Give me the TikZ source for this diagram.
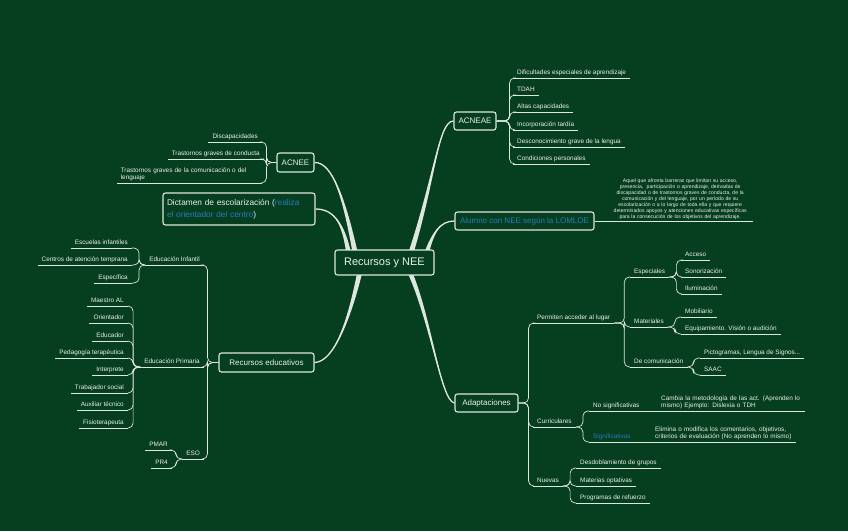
\documentclass[tikz,border=0pt]{standalone}
\usepackage{fontspec}
\setmainfont{Liberation Sans}
\usetikzlibrary{calc,backgrounds}
\definecolor{bg}{RGB}{6,62,32}
\definecolor{ln}{RGB}{222,230,222}
\definecolor{tx}{RGB}{235,240,235}
\definecolor{bl}{RGB}{38,125,190}
\newcommand\mmbranch[4]{%
  \fill[ln] ($(#1)+(-2.8,0)$) .. controls ($(#2)+(-1.4,0)$) and (#3) .. (#4)
     .. controls (#3) and ($(#2)+(1.4,0)$) .. ($(#1)+(2.8,0)$) -- cycle;
  \draw[ln, line width=1.3pt] (#1) .. controls (#2) and (#3) .. (#4);}
\begin{document}
\begin{tikzpicture}[x=1pt,y=-1pt,
  box/.style={draw=ln, line width=1.1pt, rounded corners=2.5pt, fill=bg, text=tx,
    inner sep=0pt, align=center, font=\fontsize{8}{10}\selectfont},
  ul/.style={draw=ln, line width=0.7pt},
  conn/.style={draw=ln, line width=0.7pt, rounded corners=5pt},
  leaf/.style={text=tx, font=\fontsize{6.4}{7.3}\selectfont, inner xsep=4pt, inner ysep=1.8pt,
    text height=4.8pt, text depth=1.4pt,
    append after command={(\tikzlastnode.south west) edge[ul] (\tikzlastnode.south east)}},
  leafm/.style={text=tx, font=\fontsize{6.4}{7.3}\selectfont, inner xsep=4pt, inner ysep=1.8pt, align=left,
    append after command={(\tikzlastnode.south west) edge[ul] (\tikzlastnode.south east)}},
  lfw/.style={leaf, anchor=south west},
  lfe/.style={leaf, anchor=south east}]
\begin{pgfonlayer}{background}
\fill[bg] (0,0) rectangle (848,531);
\end{pgfonlayer}
\useasboundingbox (0,0) rectangle (848,531);

% main topics
\node[box, minimum width=99, minimum height=25, font=\fontsize{11}{13}\selectfont] (c) at (384.5,262.5) {Recursos y NEE};
\node[box, minimum width=42, minimum height=18] (acneae) at (475,121) {ACNEAE};
\node[box, minimum width=139, minimum height=18, text=bl] (alumno) at (524.5,221) {Alumno con NEE según la LOMLOE};
\node[box, minimum width=63, minimum height=18] (adapt) at (486.5,403) {Adaptaciones};
\node[box, minimum width=37, minimum height=19] (acnee) at (295.5,162.5) {ACNEE};
\node[box, minimum width=152, minimum height=32, text width=144, align=left, font=\fontsize{8.3}{12}\selectfont] (dict) at (239,209)
  {Dictamen de escolarización (\textcolor{bl}{realiza}\\\textcolor{bl}{el orientador del centro})};
\node[box, minimum width=95, minimum height=19] (receduc) at (266.5,362.5) {Recursos educativos};

% main branches
\begin{pgfonlayer}{background}
\mmbranch{408,262}{435,180}{438,121}{acneae.west}
\mmbranch{424,262}{432,232}{440,221}{alumno.west}
\mmbranch{405,262}{430,310}{440,401}{adapt.west}
\mmbranch{357,262}{345,200}{333,162}{acnee.east}
\mmbranch{350,262}{345,225}{335,209}{dict.east}
\mmbranch{362,262}{350,320}{334,362}{receduc.east}
\end{pgfonlayer}

% ACNEAE
\node[lfw] (a1) at (513,78) {Dificultades especiales de aprendizaje};
\node[lfw] (a2) at (513,95) {TDAH};
\node[lfw] (a3) at (513,112) {Altas capacidades};
\node[lfw] (a4) at (513,130) {Incorporación tardía};
\node[lfw] (a5) at (513,147) {Desconocimiento grave de la lengua};
\node[lfw] (a6) at (513,164) {Condiciones personales};
\foreach \n in {a1,a2,a3,a4,a5,a6} \draw[conn] (acneae.east) -- ++(13,0) |- (\n.south west);

% ACNEE
\node[lfe] (b1) at (262,142) {Discapacidades};
\node[lfe] (b2) at (264,159) {Trastornos graves de conducta};
\node[leafm, anchor=south east, text width=137] (b3) at (262,183) {Trastornos graves de la comunicación o del\\lenguaje};
\foreach \n in {b1,b2,b3} \draw[conn] (acnee.west) -- ++(-10,0) |- (\n.south east);

% Alumno definition
\node[anchor=south west, text=tx, font=\fontsize{5.1}{6}\selectfont, text width=146, inner xsep=0pt, inner ysep=1.2pt, align=center,
  append after command={(\tikzlastnode.south west) edge[ul] (\tikzlastnode.south east)}] (def) at (607,221)
  {Aquel que afronta barreras que limitan su acceso,\\presencia,\ \ participación o aprendizaje, derivadas de\\discapacidad o de trastornos graves de conducta, de la\\comunicación y del lenguaje, por un período de su\\escolarización o a lo largo de toda ella y que requiere\\determinados apoyos y atenciones educativas específicas\\para la consecución de los objetivos del aprendizaje.};
\draw[conn] (alumno.east) -- (def.south west);

% Recursos educativos
\node[lfe] (ei) at (204,265) {Educación Infantil};
\node[lfe] (ep) at (204,367) {Educación Primaria};
\node[lfe] (eso) at (204,459) {ESO};
\foreach \n in {ei,ep,eso} \draw[conn] (receduc.west) -- ++(-11,0) |- (\n.south east);

\node[lfe] (ei1) at (132,248) {Escuelas infantiles};
\node[lfe] (ei2) at (132,265) {Centros de atención temprana};
\node[lfe] (ei3) at (132,283) {Específica};
\foreach \n in {ei1,ei2,ei3} \draw[conn] (ei.south west) -- ++(-6,0) |- (\n.south east);

\node[lfe] (p1) at (128,306) {Maestro AL};
\node[lfe] (p2) at (128,323) {Orientador};
\node[lfe] (p3) at (128,341) {Educador};
\node[lfe] (p4) at (128,358) {Pedagogía terapéutica};
\node[lfe] (p5) at (128,375) {Interprete};
\node[lfe] (p6) at (128,393) {Trabajador social};
\node[lfe] (p7) at (128,410) {Auxiliar técnico};
\node[lfe] (p8) at (128,428) {Fisioterapeuta};
\foreach \n in {p1,p2,p3,p4,p5,p6,p7,p8} \draw[conn] (ep.south west) -- ++(-7,0) |- (\n.south east);

\node[lfe] (s1) at (172,450) {PMAR};
\node[lfe] (s2) at (172,468) {PR4};
\foreach \n in {s1,s2} \draw[conn] (eso.south west) -- ++(-6,0) |- (\n.south east);

% Adaptaciones
\node[lfw] (perm) at (533,323) {Permiten acceder al lugar};
\node[lfw] (curr) at (533,427) {Curriculares};
\node[lfw] (nuev) at (533,486) {Nuevas};
\foreach \n in {perm,curr,nuev} \draw[conn] (adapt.east) -- ++(10,0) |- (\n.south west);

\node[lfw] (esp) at (630,277) {Especiales};
\node[lfw] (mat) at (630,327) {Materiales};
\node[lfw] (dec) at (630,367) {De comunicación};
\foreach \n in {esp,mat,dec} \draw[conn] (perm.south east) -- ++(10,0) |- (\n.south west);

\node[lfw] (e1) at (681,260) {Acceso};
\node[lfw] (e2) at (681,277) {Sonorización};
\node[lfw] (e3) at (681,294) {Iluminación};
\foreach \n in {e1,e2,e3} \draw[conn] (esp.south east) -- ++(7,0) |- (\n.south west);

\node[lfw] (m1) at (681,317) {Mobiliario};
\node[lfw] (m2) at (681,334) {Equipamiento. Visión o audición};
\foreach \n in {m1,m2} \draw[conn] (mat.south east) -- ++(7,0) |- (\n.south west);

\node[lfw] (d1) at (700,358) {Pictogramas, Lengua de Signos...};
\node[lfw] (d2) at (700,375) {SAAC};
\foreach \n in {d1,d2} \draw[conn] (dec.south east) -- ++(6,0) |- (\n.south west);

\node[lfw] (nsig) at (589,411) {No significativas};
\node[lfw, text=bl] (sig) at (589,442) {Significativas};
\foreach \n in {nsig,sig} \draw[conn] (curr.south east) -- ++(7,0) |- (\n.south west);

\node[leafm, anchor=south west, text width=140] (cam) at (657,411) {Cambia la metodología de las act. (Aprenden lo\\mismo) Ejemplo: Dislexia o TDH};
\node[leafm, anchor=south west, text width=137] (elim) at (651,442) {Elimina o modifica los comentarios, objetivos,\\criterios de evaluación (No aprenden lo mismo)};
\draw[conn] (nsig.south east) -- (cam.south west);
\draw[conn] (sig.south east) -- (elim.south west);

\node[lfw] (n1) at (576,468) {Desdoblamiento de grupos};
\node[lfw] (n2) at (576,486) {Materias optativas};
\node[lfw] (n3) at (576,503) {Programas de refuerzo};
\foreach \n in {n1,n2,n3} \draw[conn] (nuev.south east) -- ++(7,0) |- (\n.south west);
\end{tikzpicture}
\end{document}
